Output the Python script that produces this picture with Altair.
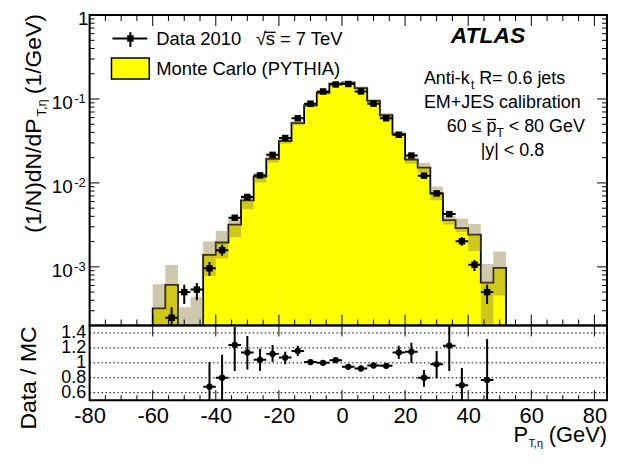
import altair as alt
import pandas as pd

FONT = "Liberation Sans"

# ---------------- values ----------------
bin_edges = [-60, -56, -52, -48, -44, -40, -36, -32, -28, -24, -20, -16, -12, -8, -4,
             0, 4, 8, 12, 16, 20, 24, 28, 32, 36, 40, 44, 48, 52]
# Monte Carlo (PYTHIA) per bin (None = empty bin)
mc_vals = [3.2e-4, 6.1e-4, None, None, 1.39e-3, 1.95e-3, 3.19e-3, 6.2e-3, 1.19e-2, 1.94e-2,
           3.16e-2, 5.16e-2, 8.4e-2, 0.118, 0.152, 0.157, 0.135, 0.095, 0.064, 0.0385,
           0.019, 0.0152, 7.5e-3, 3.6e-3, 2.89e-3, 2.42e-3, 6.5e-4, 9.7e-4]
# MC systematic band (None = below the axis)
mc_band_lo = [None, None, None, None, 7.8e-4, 1.27e-3, 2.27e-3, 4.85e-3, 1.01e-2, 1.75e-2,
              2.92e-2, 4.85e-2, 8.0e-2, 0.112, 0.146, 0.151, 0.129, 0.090, 0.060, 0.036,
              0.0169, 0.0132, 6.23e-3, 3.2e-3, 2.60e-3, 1.55e-3, 2.1e-4, 4.56e-4]
mc_band_hi = [6.2e-4, 1.05e-3, 3.3e-4, 4.4e-4, 2.0e-3, 2.67e-3, 3.81e-3, 7.2e-3, 1.32e-2, 2.1e-2,
              3.38e-2, 5.45e-2, 8.8e-2, 0.124, 0.158, 0.163, 0.141, 0.100, 0.068, 0.041,
              0.0202, 0.0174, 9.06e-3, 4.1e-3, 3.78e-3, 3.25e-3, 1.08e-3, 1.52e-3]

# Data 2010
data_x = [-54, -50, -46, -42, -38, -34, -30, -26, -22, -18, -14, -10, -6, -2,
          2, 6, 10, 14, 18, 22, 26, 30, 34, 38, 42, 46]
data_vals = [2.48e-4, 5.0e-4, 5.36e-4, 9.6e-4, 1.58e-3, 3.85e-3, 6.8e-3, 1.23e-2, 2.16e-2,
             3.43e-2, 5.9e-2, 8.8e-2, 0.123, 0.149, 0.151, 0.123, 0.088, 0.059, 0.0375,
             0.0212, 0.0122, 7.5e-3, 4.25e-3, 2.02e-3, 1.06e-3, 5.0e-4]
data_lo = [None, 3.6e-4, 4.0e-4, 7.8e-4, 1.36e-3, 3.65e-3, 6.5e-3, 1.19e-2, 2.1e-2,
           3.35e-2, 5.8e-2, 8.7e-2, 0.122, 0.148, 0.150, 0.122, 0.087, 0.058, 0.0365,
           0.0205, 0.0116, 7.0e-3, 3.95e-3, 1.79e-3, 8.9e-4, 3.6e-4]
data_hi = [3.3e-4, 6.1e-4, 6.4e-4, 1.14e-3, 1.84e-3, 4.05e-3, 7.1e-3, 1.27e-2, 2.22e-2,
           3.51e-2, 6.0e-2, 8.9e-2, 0.124, 0.150, 0.152, 0.124, 0.089, 0.060, 0.0385,
           0.0219, 0.0128, 8.0e-3, 4.6e-3, 2.27e-3, 1.21e-3, 6.1e-4]

# Data / MC
ratio_x = [-42, -38, -34, -30, -26, -22, -18, -14, -10, -6, -2, 2, 6, 10, 14,
           18, 22, 26, 30, 34, 38, 46]
ratio_vals = [0.68, 0.80, 1.24, 1.14, 1.04, 1.12, 1.07, 1.16, 1.01, 1.00, 1.035, 0.946,
              0.924, 0.964, 0.96, 1.14, 1.148, 0.80, 0.98, 1.23, 0.70, 0.77]
ratio_lo = [0.40, 0.40, 0.89, 0.91, 0.89, 1.01, 0.98, 1.09, 0.985, 0.98, 1.01, 0.925,
            0.90, 0.94, 0.935, 1.05, 1.00, 0.68, 0.79, 0.89, 0.40, 0.40]
ratio_hi = [1.01, 1.11, 1.48, 1.36, 1.19, 1.24, 1.15, 1.23, 1.035, 1.02, 1.06, 0.97,
            0.95, 0.99, 0.985, 1.23, 1.27, 0.905, 1.16, 1.52, 0.93, 1.32]

# axis ticks and labels
x_major = [-80, -60, -40, -20, 0, 20, 40, 60, 80]
x_minor = [-75, -70, -65, -55, -50, -45, -35, -30, -25, -15, -10, -5,
           5, 10, 15, 25, 30, 35, 45, 50, 55, 65, 70, 75]
y_major = [1e-3, 1e-2, 1e-1]
y_major_base = ["10", "10", "10"]
y_major_exp = ["-3", "-2", "-1"]
y_minor = [2e-4, 3e-4, 4e-4, 5e-4, 6e-4, 7e-4, 8e-4, 9e-4,
           2e-3, 3e-3, 4e-3, 5e-3, 6e-3, 7e-3, 8e-3, 9e-3,
           2e-2, 3e-2, 4e-2, 5e-2, 6e-2, 7e-2, 8e-2, 9e-2,
           2e-1, 3e-1, 4e-1, 5e-1, 6e-1, 7e-1, 8e-1, 9e-1]
ratio_ticks = [0.6, 0.8, 1.0, 1.2, 1.4]

# ---------------- layout ----------------
W = 520
H1 = 312
H2 = 75
FLOOR = 1e-5  # stands for "below the axis" (clipped)
HALF = 2      # half bin width

xscale = alt.Scale(domain=[-80, 84], nice=False, zero=False)
yscale = alt.Scale(type="log", domain=[2e-4, 1], nice=False)
rscale = alt.Scale(domain=[0.5, 1.5], nice=False, zero=False)

rx_axis = alt.Axis(values=x_major, labelExpr="datum.value + ''", labelFontSize=22,
                   labelFont=FONT, labelColor="black", labelPadding=5, ticks=False,
                   domain=False, grid=False, title=None, labelFlush=False,
                   labelOverlap=False)
ry_axis = alt.Axis(values=ratio_ticks, labelExpr="datum.value + ''", labelFontSize=18,
                   labelFont=FONT, labelColor="black", labelPadding=4, ticks=False,
                   domain=False, grid=False, title=None, labelOverlap=False)


def X(f):
    return alt.X(f, type="quantitative", scale=xscale, axis=None)


def Y(f):
    return alt.Y(f, type="quantitative", scale=yscale, axis=None)


def RX(f):
    return alt.X(f, type="quantitative", scale=xscale, axis=rx_axis)


def RY(f):
    return alt.Y(f, type="quantitative", scale=rscale, axis=ry_axis)


one = pd.DataFrame({"k": [0]})


def txt(s, x, y, size, align="left", angle=0, **kw):
    return alt.Chart(one).mark_text(text=s, align=align, baseline="alphabetic",
                                    fontSize=size, font=FONT, color="black",
                                    angle=angle, **kw).encode(
        x=alt.value(x), y=alt.value(y))


def rule(x, x2, y, y2, width=1.0):
    return alt.Chart(one).mark_rule(color="black", strokeWidth=width).encode(
        x=alt.value(x), x2=alt.value(x2), y=alt.value(y), y2=alt.value(y2))


# ---------------- main panel ----------------
hist_df = pd.DataFrame({
    "lo": bin_edges[:-1],
    "hi": bin_edges[1:],
    "mc": mc_vals,
    "blo": [v if v is not None else FLOOR for v in mc_band_lo],
    "bhi": mc_band_hi,
})
fill_df = hist_df.dropna(subset=["mc"])

verts = [(bin_edges[0], FLOOR)]
for i, v in enumerate(mc_vals):
    vv = v if v is not None else FLOOR
    verts.append((bin_edges[i], vv))
    verts.append((bin_edges[i + 1], vv))
verts.append((bin_edges[-1], FLOOR))
outline_df = pd.DataFrame({"x": [p[0] for p in verts], "y": [p[1] for p in verts],
                           "i": list(range(len(verts)))})

data_df = pd.DataFrame({
    "x": data_x,
    "xl": [x - HALF for x in data_x],
    "xr": [x + HALF for x in data_x],
    "v": data_vals,
    "lo": [v if v is not None else FLOOR for v in data_lo],
    "hi": data_hi,
})

fill = alt.Chart(fill_df).mark_rect(fill="#ffff00", stroke="#ffff00", strokeWidth=0.6).encode(
    x=X("lo"), x2="hi", y=Y("mc"), y2=alt.value(H1))
outline = alt.Chart(outline_df).mark_line(color="black", strokeWidth=1.8, clip=True).encode(
    x=X("x"), y=Y("y"), order="i:Q")
band = alt.Chart(hist_df).mark_rect(fill="#8c7c3c", opacity=0.42, clip=True).encode(
    x=X("lo"), x2="hi", y=Y("bhi"), y2="blo")
d_h = alt.Chart(data_df).mark_rule(color="black", strokeWidth=2, clip=True).encode(
    x=X("xl"), x2="xr", y=Y("v"))
d_v = alt.Chart(data_df).mark_rule(color="black", strokeWidth=2, clip=True).encode(
    x=X("x"), y=Y("lo"), y2="hi")
d_pt = alt.Chart(data_df).mark_square(size=42, color="black", opacity=1).encode(
    x=X("x"), y=Y("v"))

xmaj_df = pd.DataFrame({"v": x_major})
xmin_df = pd.DataFrame({"v": x_minor})
ymaj_df = pd.DataFrame({"v": y_major, "b": y_major_base, "s": y_major_exp})
ymin_df = pd.DataFrame({"v": y_minor})


def xticks(df, fieldfn, y0, y1):
    return alt.Chart(df).mark_rule(color="black", strokeWidth=1).encode(
        x=fieldfn("v"), y=alt.value(y0), y2=alt.value(y1))


def yticks(df, fieldfn, x0, x1):
    return alt.Chart(df).mark_rule(color="black", strokeWidth=1).encode(
        y=fieldfn("v"), x=alt.value(x0), x2=alt.value(x1))


main_ticks = [
    xticks(xmaj_df, X, 0, 11), xticks(xmin_df, X, 0, 6),
    xticks(xmaj_df, X, H1 - 11, H1), xticks(xmin_df, X, H1 - 6, H1),
    yticks(ymaj_df, Y, 0, 10), yticks(ymin_df, Y, 0, 5),
    yticks(ymaj_df, Y, W - 10, W), yticks(ymin_df, Y, W - 5, W),
]

frame1 = alt.Chart(one).mark_rect(filled=False, stroke="black", strokeWidth=2).encode(
    x=alt.value(0), x2=alt.value(W), y=alt.value(0), y2=alt.value(H1))

ylab_base = alt.Chart(ymaj_df).mark_text(align="right", baseline="alphabetic", dy=10.5,
                                         fontSize=19, font=FONT, color="black").encode(
    x=alt.value(-16.8), y=Y("v"), text="b:N")
ylab_exp = alt.Chart(ymaj_df).mark_text(align="left", baseline="alphabetic", dy=4,
                                        fontSize=13, font=FONT, color="black").encode(
    x=alt.value(-15.4), y=Y("v"), text="s:N")
ylab_one = alt.Chart(pd.DataFrame({"v": [1.0], "t": ["1"]})).mark_text(
    align="right", baseline="alphabetic", dy=9.5, fontSize=19, font=FONT,
    color="black").encode(x=alt.value(-1), y=Y("v"), text="t:N")

main_text = [
    # y title
    txt("(1/N)dN/dP", -49, 104, 23, align="right", angle=270),
    txt("T,η", -44, 102, 13, align="left", angle=270),
    txt("(1/GeV)", -49, -1, 23, align="right", angle=270),
    # legend
    rule(23, 58, 23.5, 23.5, 2),
    rule(41, 41, 17.2, 32, 2),
    alt.Chart(one).mark_square(size=42, color="black", opacity=1).encode(
        x=alt.value(41), y=alt.value(23.5)),
    txt("Data 2010", 67, 30.4, 18.5),
    txt("√", 177.5, 30.4, 18.5, align="right"),
    txt("s = 7 TeV", 177, 30.4, 18.5),
    rule(175.5, 187, 17.3, 17.3, 1.3),
    alt.Chart(one).mark_rect(fill="#ffff00", stroke="black", strokeWidth=1.5).encode(
        x=alt.value(22), x2=alt.value(60), y=alt.value(43.2), y2=alt.value(64.3)),
    txt("Monte Carlo (PYTHIA)", 67, 59.8, 18.5),
    # labels
    txt("ATLAS", 363, 28.4, 23, fontStyle="italic", fontWeight="bold"),
    txt("Anti-k", 336, 69.2, 18),
    txt("t", 383.3, 74.5, 12),
    txt("R= 0.6 jets", 391.5, 69.2, 18),
    txt("EM+JES calibration", 336, 93.7, 18),
    txt("60 ≤", 359, 117.2, 18),
    txt("p", 398.9, 117.2, 18),
    rule(399.5, 408.5, 104.9, 104.9, 1.2),
    txt("T", 408.9, 122.5, 12),
    txt("< 80 GeV", 421.2, 117.2, 18),
    txt("|y| < 0.8", 393, 141.3, 18),
]

main = alt.layer(fill, outline, band, d_h, d_v, d_pt, *main_ticks, frame1,
                 ylab_base, ylab_exp, ylab_one, *main_text).properties(width=W, height=H1)

# ---------------- ratio panel ----------------
ratio_df = pd.DataFrame({
    "x": ratio_x,
    "xl": [x - HALF for x in ratio_x],
    "xr": [x + HALF for x in ratio_x],
    "v": ratio_vals,
    "lo": ratio_lo,
    "hi": ratio_hi,
})
grid_df = pd.DataFrame({"v": ratio_ticks})

grid = alt.Chart(grid_df).mark_rule(color="black", strokeWidth=1, strokeDash=[1.5, 2.5]).encode(
    y=RY("v"), x=alt.value(0), x2=alt.value(W))
r_h = alt.Chart(ratio_df).mark_rule(color="black", strokeWidth=2, clip=True).encode(
    x=RX("xl"), x2="xr", y=RY("v"))
r_v = alt.Chart(ratio_df).mark_rule(color="black", strokeWidth=2, clip=True).encode(
    x=RX("x"), y=RY("lo"), y2="hi")
r_pt = alt.Chart(ratio_df).mark_circle(size=40, color="black", opacity=1).encode(
    x=RX("x"), y=RY("v"))

ratio_ticks_layers = [
    xticks(xmaj_df, RX, H2 - 10, H2), xticks(xmin_df, RX, H2 - 5, H2),
    xticks(xmaj_df, RX, 0, 11),
]
frame2 = alt.Chart(one).mark_rect(filled=False, stroke="black", strokeWidth=2).encode(
    x=alt.value(0), x2=alt.value(W), y=alt.value(0), y2=alt.value(H2))

ratio_text = [
    txt("Data / MC", -54, 1, 23, align="right", angle=270),
    txt("P", 426, 117, 22),
    txt("T,η", 441, 122, 11),
    txt("(GeV)", W, 117, 22, align="right"),
]

ratio = alt.layer(grid, r_h, r_v, r_pt, *ratio_ticks_layers, frame2,
                  *ratio_text).properties(width=W, height=H2)

chart = alt.vconcat(main, ratio, spacing=0, bounds="flush",
                    padding={"left": 9, "top": 0, "right": 0, "bottom": 0}
                    ).configure_view(strokeWidth=0).configure(font=FONT)

chart.save("out.html", embed_options={"renderer": "svg", "actions": False})
